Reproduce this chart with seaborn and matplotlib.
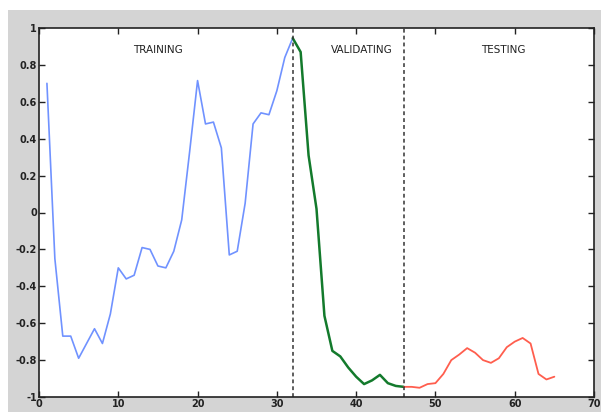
# Training / validation / testing curve, MATLAB-style figure

import numpy as np
import pandas as pd
import matplotlib
matplotlib.use("Agg")
import matplotlib.pyplot as plt
import seaborn as sns
from matplotlib.patches import Rectangle


# Values
train_x = list(range(1, 33))
train_y = [0.70, -0.25, -0.67, -0.67, -0.79, -0.71, -0.63, -0.71, -0.55, -0.30,
           -0.36, -0.34, -0.19, -0.20, -0.29, -0.30, -0.21, -0.04, 0.33, 0.715,
           0.48, 0.49, 0.35, -0.23, -0.21, 0.05, 0.48, 0.54, 0.53, 0.66,
           0.84, 0.945]

val_x = list(range(32, 47))
val_y = [0.945, 0.87, 0.31, 0.02, -0.56, -0.75, -0.78, -0.84, -0.89, -0.93,
         -0.91, -0.88, -0.925, -0.94, -0.945]

test_x = list(range(46, 66))
test_y = [-0.945, -0.945, -0.95, -0.93, -0.925, -0.875, -0.80, -0.77, -0.735, -0.76,
          -0.80, -0.815, -0.79, -0.73, -0.70, -0.68, -0.71, -0.875, -0.905, -0.89]

splits = [32, 46]
labels = ["TRAINING", "VALIDATING", "TESTING"]
label_x = [15, 40.7, 58.6]

x_ticks = [0, 10, 20, 30, 40, 50, 60, 70]
y_ticks = [-1, -0.8, -0.6, -0.4, -0.2, 0, 0.2, 0.4, 0.6, 0.8, 1]
y_tick_labels = ["-1", "-0.8", "-0.6", "-0.4", "-0.2", "0", "0.2", "0.4", "0.6", "0.8", "1"]


# Put everything in one table
data = pd.concat([
    pd.DataFrame({"x": train_x, "y": train_y, "part": "train"}),
    pd.DataFrame({"x": val_x, "y": val_y, "part": "val"}),
    pd.DataFrame({"x": test_x, "y": test_y, "part": "test"}),
])

sns.set_style("white")
plt.rcParams["font.family"] = ["DejaVu Sans"]

fig = plt.figure(figsize=(6.01, 4.12), dpi=100)
fig.patch.set_facecolor("white")
# grey window background with a white strip on top and left
bg = Rectangle((8 / 601, 0), 1, 1 - 10 / 412, transform=fig.transFigure,
               facecolor="#d4d4d4", edgecolor="none", zorder=-10)
fig.add_artist(bg)

ax = fig.add_axes([39 / 601, 1 - 397 / 412, 555 / 601, 369 / 412])
ax.set_facecolor("white")

colors = {"train": "#7092ff", "val": "#137a2c", "test": "#ff5e4e"}
widths = {"train": 1.2, "val": 1.8, "test": 1.3}
for part in ["train", "val", "test"]:
    sns.lineplot(x="x", y="y", data=data[data["part"] == part], ax=ax,
                 color=colors[part], linewidth=widths[part], estimator=None)

for s in splits:
    ax.axvline(s, color="#333333", linestyle=(0, (2.5, 2)), linewidth=1.1)

for lx, lab in zip(label_x, labels):
    ax.text(lx, 0.88, lab, ha="center", va="center", fontsize=7.5, color="#222222")

ax.set_xlim(0, 70)
ax.set_ylim(-1, 1)
ax.set_xticks(x_ticks)
ax.set_xticklabels([str(t) for t in x_ticks], fontsize=7, fontweight="bold")
ax.set_yticks(y_ticks)
ax.set_yticklabels(y_tick_labels, fontsize=7, fontweight="bold")
ax.tick_params(direction="in", length=4, width=1, top=True, right=True, pad=1.5,
               colors="#222222", bottom=True, left=True)
ax.set_xlabel("")
ax.set_ylabel("")
for sp in ax.spines.values():
    sp.set_visible(True)
    sp.set_color("#222222")
    sp.set_linewidth(1.2)

fig.savefig("out.png", dpi=100, facecolor=fig.get_facecolor())
